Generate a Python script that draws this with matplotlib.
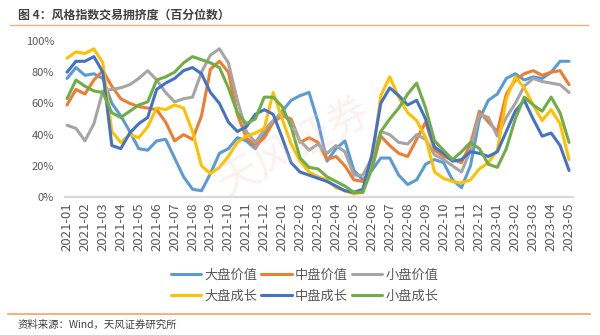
import numpy as np
import matplotlib
matplotlib.use('Agg')
import matplotlib.pyplot as plt
from matplotlib.lines import Line2D

plt.rcParams['font.family'] = ['Noto Sans CJK SC', 'DejaVu Sans']

# month tick labels, data is sampled twice a month
months = ['2021-01', '2021-02', '2021-03', '2021-04', '2021-05', '2021-06', '2021-07',
          '2021-08', '2021-09', '2021-10', '2021-11', '2021-12', '2022-01', '2022-02',
          '2022-03', '2022-04', '2022-05', '2022-06', '2022-07', '2022-08', '2022-09',
          '2022-10', '2022-11', '2022-12', '2023-01', '2023-02', '2023-03', '2023-04',
          '2023-05']

large_value = [76, 83, 78, 79, 76, 60, 52, 42, 31, 30, 36, 37, 25, 13, 5, 4, 15, 28, 31, 38,
               36, 31, 40, 48, 55, 62, 65, 67, 48, 23, 31, 36, 17, 11, 17, 25, 25, 14, 8, 11,
               21, 24, 22, 11, 6, 20, 50, 62, 66, 76, 79, 75, 77, 76, 80, 87, 87]
mid_value = [59, 69, 66, 75, 81, 71, 63, 60, 58, 57, 56, 48, 36, 40, 37, 52, 82, 87, 80, 53,
             38, 33, 38, 48, 52, 50, 35, 38, 35, 24, 26, 20, 11, 10, 18, 39, 33, 28, 26, 37,
             48, 30, 26, 24, 22, 34, 55, 48, 42, 66, 75, 79, 81, 78, 80, 81, 72]
small_value = [46, 44, 36, 47, 68, 69, 70, 72, 76, 81, 75, 67, 61, 63, 64, 80, 91, 95, 86, 62,
               42, 35, 43, 49, 54, 48, 36, 30, 34, 28, 33, 29, 14, 14, 25, 42, 40, 35, 34, 40,
               37, 27, 24, 20, 16, 30, 53, 51, 39, 51, 60, 71, 76, 74, 73, 72, 67]
large_growth = [89, 93, 92, 95, 86, 42, 35, 40, 38, 45, 57, 56, 59, 57, 42, 20, 15, 19, 26, 35,
                39, 41, 44, 67, 50, 34, 23, 16, 13, 11, 6, 4, 2, 3, 22, 65, 77, 64, 54, 49,
                38, 16, 12, 10, 9, 11, 18, 22, 30, 63, 77, 70, 59, 49, 56, 47, 24]
mid_growth = [80, 87, 87, 90, 80, 33, 31, 41, 47, 51, 69, 73, 76, 81, 83, 79, 67, 60, 48, 42,
              45, 53, 56, 53, 38, 22, 16, 14, 12, 10, 7, 4, 3, 5, 27, 60, 70, 65, 59, 62,
              50, 32, 28, 23, 24, 29, 28, 26, 29, 42, 55, 62, 50, 39, 41, 33, 17]
small_growth = [63, 75, 71, 68, 67, 54, 51, 55, 59, 61, 75, 77, 80, 86, 90, 88, 86, 83, 70, 54,
                47, 50, 64, 64, 58, 45, 25, 19, 18, 13, 10, 7, 3, 3, 18, 42, 50, 57, 66, 73,
                57, 36, 30, 24, 29, 35, 31, 21, 19, 31, 50, 64, 59, 55, 64, 54, 35]

names = ['大盘价值', '中盘价值', '小盘价值', '大盘成长', '中盘成长', '小盘成长']
series = [large_value, mid_value, small_value, large_growth, mid_growth, small_growth]
colors = ['#5B9BD5', '#ED7D31', '#A5A5A5', '#FFC000', '#4472C4', '#70AD47']

fig = plt.figure(figsize=(6, 3.35), dpi=100)
ax = fig.add_axes([0.1087, 0.4119, 0.8457, 0.4657])

x = np.arange(len(large_value)) / 2.0
handles = []
for name, vals, c in zip(names, series, colors):
    ln, = ax.plot(x, vals, color=c, lw=2.2, label=name, clip_on=False,
                  solid_joinstyle='round', solid_capstyle='round')
    handles.append(ln)

# faint watermark
fig.text(0.49, 0.56, '天风证券', fontsize=30, color='#F3C4C4', alpha=0.25,
         rotation=28, ha='center', va='center', zorder=0)

ax.set_xlim(-0.1, 28.2)
ax.set_ylim(0, 100)
ax.set_xticks(np.arange(len(months)))
ax.set_xticklabels(months, rotation=90, fontsize=9.5, color='#595959')
ax.set_yticks([0, 20, 40, 60, 80, 100])
ax.set_yticklabels(['0%', '20%', '40%', '60%', '80%', '100%'], fontsize=8, color='#595959')
ax.tick_params(axis='both', length=0)
ax.tick_params(axis='x', pad=4)
ax.tick_params(axis='y', pad=8)
for s in ['left', 'right', 'top']:
    ax.spines[s].set_visible(False)
ax.spines['bottom'].set_color('#D9D9D9')
ax.spines['bottom'].set_linewidth(1.6)
ax.patch.set_alpha(0)

# legend laid out row by row
order = [0, 3, 1, 4, 2, 5]
fig.legend([handles[i] for i in order], [names[i] for i in order], ncol=3,
           loc='center', bbox_to_anchor=(304.5 / 600, 1 - 286 / 335), frameon=False,
           fontsize=9.5, handlelength=2.3, handletextpad=0.25, columnspacing=0.3,
           labelspacing=0.6, labelcolor='#595959')

# header and footer
fig.text(18 / 600, 1 - 15 / 335, '图 4：风格指数交易拥挤度（百分位数）', fontsize=8.6,
         fontweight='bold', color='#404040', ha='left', va='center')
fig.add_artist(Line2D([10 / 600, 588 / 600], [1 - 25 / 335, 1 - 25 / 335],
                      color='#F4B183', lw=1.0))
fig.add_artist(Line2D([8 / 600, 590 / 600], [1 - 314 / 335, 1 - 314 / 335],
                      color='#F4A460', lw=1.2))
fig.text(18 / 600, 1 - 325 / 335, '资料来源：Wind，天风证券研究所', fontsize=7.5,
         color='#404040', ha='left', va='center')

fig.savefig('out.png', dpi=100)
